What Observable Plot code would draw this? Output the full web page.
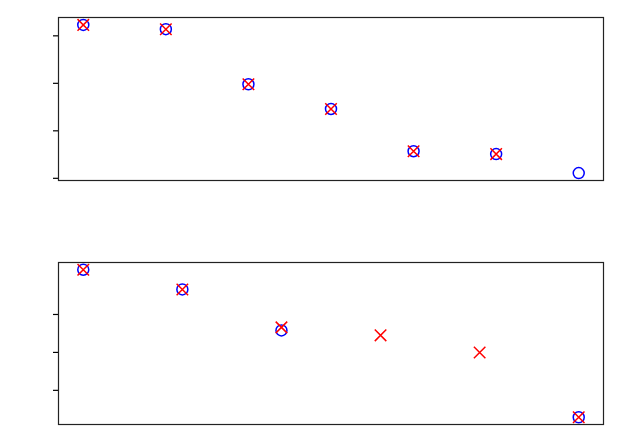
<!DOCTYPE html>
<html>
<head>
<meta charset="utf-8">
<script src="https://cdn.jsdelivr.net/npm/d3@7"></script>
<script src="https://cdn.jsdelivr.net/npm/@observablehq/plot@0.6"></script>
<style>
  body { margin: 0; background: #fff; }
  #chart svg { display: block; }
</style>
</head>
<body>
<div id="chart"></div>
<script>
// Top panel data
const topCircleX = [0, 1, 2, 3, 4, 5, 6];
const topCircleY = [3.23, 3.14, 1.98, 1.46, 0.57, 0.51, 0.11];
const topCrossX = [0, 1, 2, 3, 4, 5];
const topCrossY = [3.23, 3.14, 1.98, 1.46, 0.57, 0.51];
const topTicks = [0, 1, 2, 3];

// Bottom panel data
const botCircleX = [0, 1, 2, 5];
const botCircleY = [4.18, 3.66, 2.58, 0.29];
const botCrossX = [0, 1, 2, 3, 4, 5];
const botCrossY = [4.18, 3.66, 2.66, 2.45, 2.0, 0.29];
const botTicks = [1, 2, 3];

function panel({circleX, circleY, crossX, crossY, ticks, xDomain, yDomain, height, marginTop, marginBottom}) {
  const circles = circleX.map((x, i) => ({x, y: circleY[i]}));
  const crosses = crossX.map((x, i) => ({x, y: crossY[i]}));
  return Plot.plot({
    width: 628,
    height,
    marginLeft: 58,
    marginRight: 25,
    marginTop,
    marginBottom,
    x: {domain: xDomain, axis: null},
    y: {domain: yDomain, label: null},
    marks: [
      Plot.axisY({ticks, tickFormat: () => "", label: null, tickSize: 5, stroke: "#000", strokeWidth: 1.2}),
      Plot.dot(circles, {x: "x", y: "y", r: 5.5, stroke: "blue", strokeWidth: 1.5, fill: "none"}),
      Plot.dot(crosses, {x: "x", y: "y", symbol: "times", r: 5.3, stroke: "red", strokeWidth: 1.5}),
      Plot.frame({stroke: "#222", strokeWidth: 1.2})
    ]
  });
}

const chart = document.getElementById("chart");
chart.append(panel({
  circleX: topCircleX, circleY: topCircleY, crossX: topCrossX, crossY: topCrossY,
  ticks: topTicks, xDomain: [-0.3, 6.3], yDomain: [-0.046, 3.386],
  height: 218, marginTop: 17, marginBottom: 38
}));
chart.append(panel({
  circleX: botCircleX, circleY: botCircleY, crossX: botCrossX, crossY: botCrossY,
  ticks: botTicks, xDomain: [-0.25, 5.25], yDomain: [0.10, 4.37],
  height: 219, marginTop: 44, marginBottom: 13
}));
</script>
</body>
</html>
